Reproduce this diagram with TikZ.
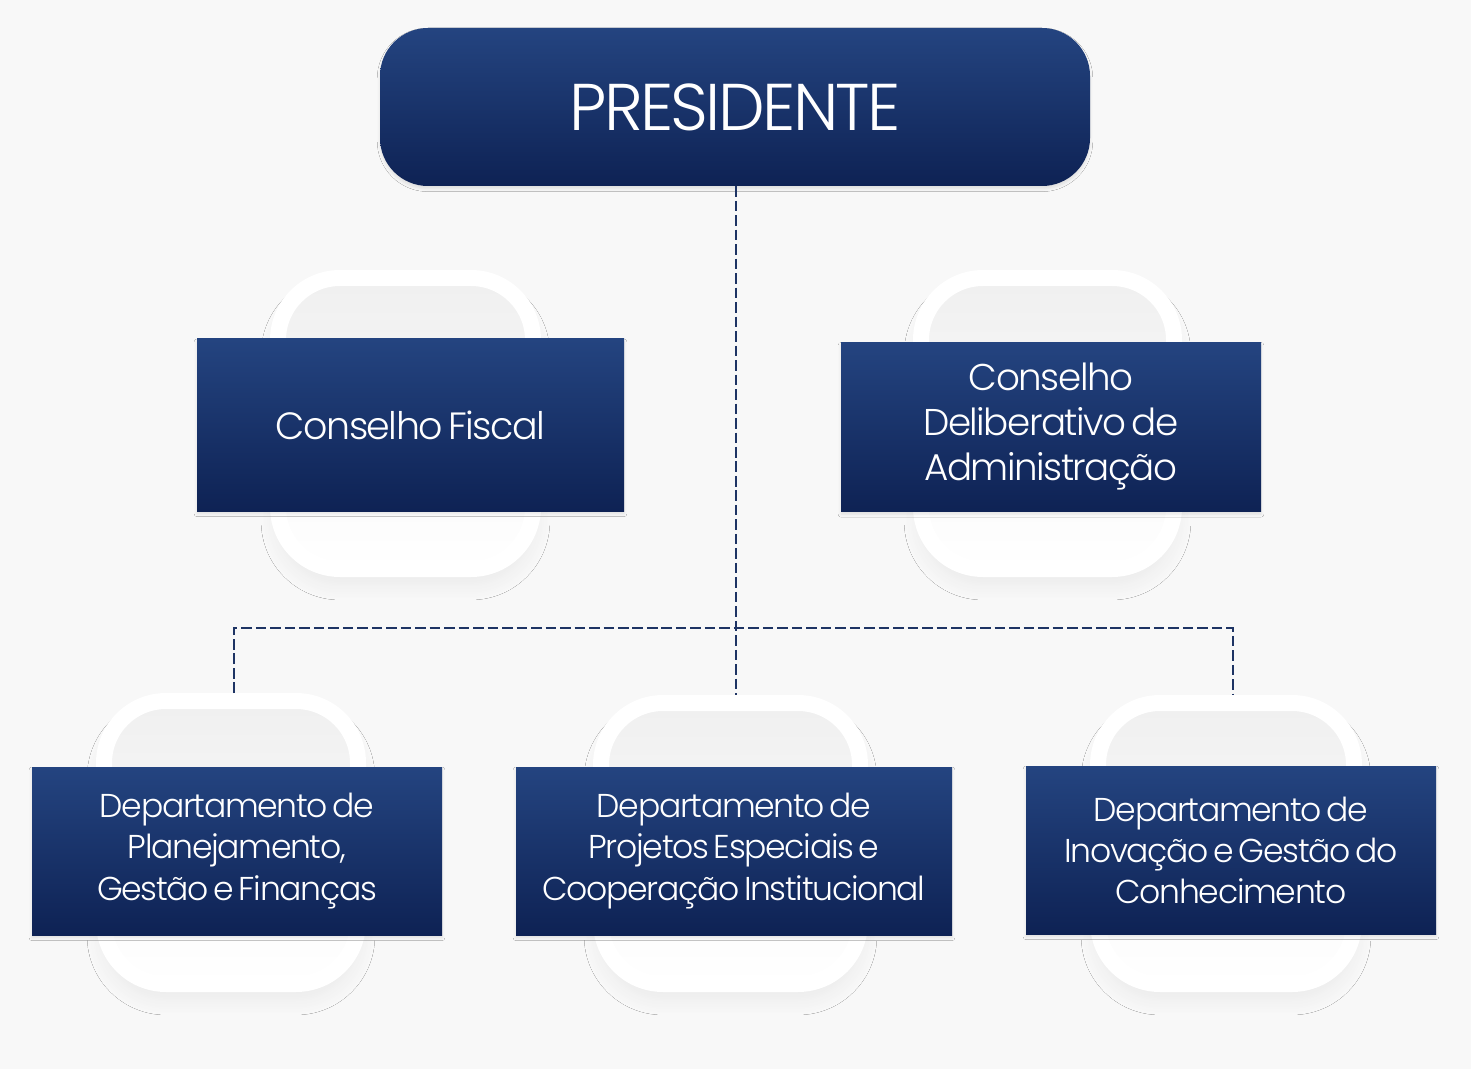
\documentclass[tikz,border=0pt]{standalone}
\usepackage{fontspec}
\setmainfont{Poppins Light}[LetterSpace=-4, WordSpace=0.6]
\usepackage{tikz}
\usetikzlibrary{shadows.blur,positioning}
\definecolor{navytop}{RGB}{36,68,128}
\definecolor{navybot}{RGB}{14,34,84}
\definecolor{dashblue}{RGB}{30,52,100}
\definecolor{bgray}{RGB}{248,248,248}
\newcommand{\pu}{0.025cm}
\tikzset{
	unitbox/.style={rectangle, top color=navytop, bottom color=navybot, text=white, align=center, inner sep=0pt,
		blur shadow={shadow xshift=0pt, shadow yshift=-2pt, shadow blur radius=2pt, shadow opacity=10}},
	ring/.style={rectangle, draw=white, line width=16*\pu, rounded corners=62*\pu, top color=black!6, bottom color=white,
		minimum width=#1*\pu-16*\pu, minimum height=291*\pu,
		blur shadow={shadow xshift=0pt, shadow yshift=-10pt, shadow blur radius=12pt, shadow blur steps=12, shadow opacity=6}},
	ring/.default=271,
	link/.style={dashblue, line width=1.5pt, dash pattern=on 7.5pt off 2.8pt},
	bigtxt/.style={font=\fontsize{27}{32}\selectfont},
	midtxt/.style={font=\fontsize{26.5}{32}\selectfont},
	smalltxt/.style={font=\fontsize{23.5}{29.2}\selectfont}
}

\begin{document}
\begin{tikzpicture}[x=\pu, y=-\pu]
		\useasboundingbox (0,0) rectangle (1471,1069);
		\fill[bgray] (0,0) rectangle (1471,1069);
		\node[ring] (ringfiscal) at (405.5,423.5) {};
		\node[ring=269] (ringdelib) at (1047.5,423.5) {};
		\node[ring=270, minimum height=283*\pu] (ringplan) at (231,842.5) {};
		\node[ring=275, minimum height=281*\pu] (ringproj) at (730.5,843.5) {};
		\node[ring=272, minimum height=281*\pu] (ringinov) at (1226,843.5) {};
		\node[unitbox, rounded corners=48*\pu, minimum width=710*\pu, minimum height=158*\pu,
			font=\fontsize{47}{50}\selectfont] (pres) at (735,107) {PRESIDENTE};
		\node[unitbox, bigtxt, minimum width=427*\pu, minimum height=172*\pu] (fiscal) at (410.5,425) {Conselho Fiscal};
		\node[unitbox, midtxt, minimum width=420*\pu, minimum height=169*\pu] (delib) at (1051,427) {Conselho\\Deliberativo de\\Administração};
		\node[unitbox, smalltxt, minimum width=410*\pu, minimum height=168*\pu] (plan) at (237,851) {Departamento de\\Planejamento,\\Gestão e Finanças};
		\node[unitbox, smalltxt, minimum width=436*\pu, minimum height=168*\pu] (proj) at (734,851) {Departamento de\\Projetos Especiais e\\Cooperação Institucional};
		\node[unitbox, smalltxt, minimum width=410*\pu, minimum height=168*\pu] (inov) at (1231,850) {Departamento de\\Inovação e Gestão do\\Conhecimento};
		\coordinate (bus) at (736,628);
		\draw[link] (pres.south -| bus) -- (ringproj.north -| bus);
		\draw[link] (ringplan.north -| 234,0) |- (bus) -| (ringinov.north -| 1233,0);
\end{tikzpicture}
\end{document}
